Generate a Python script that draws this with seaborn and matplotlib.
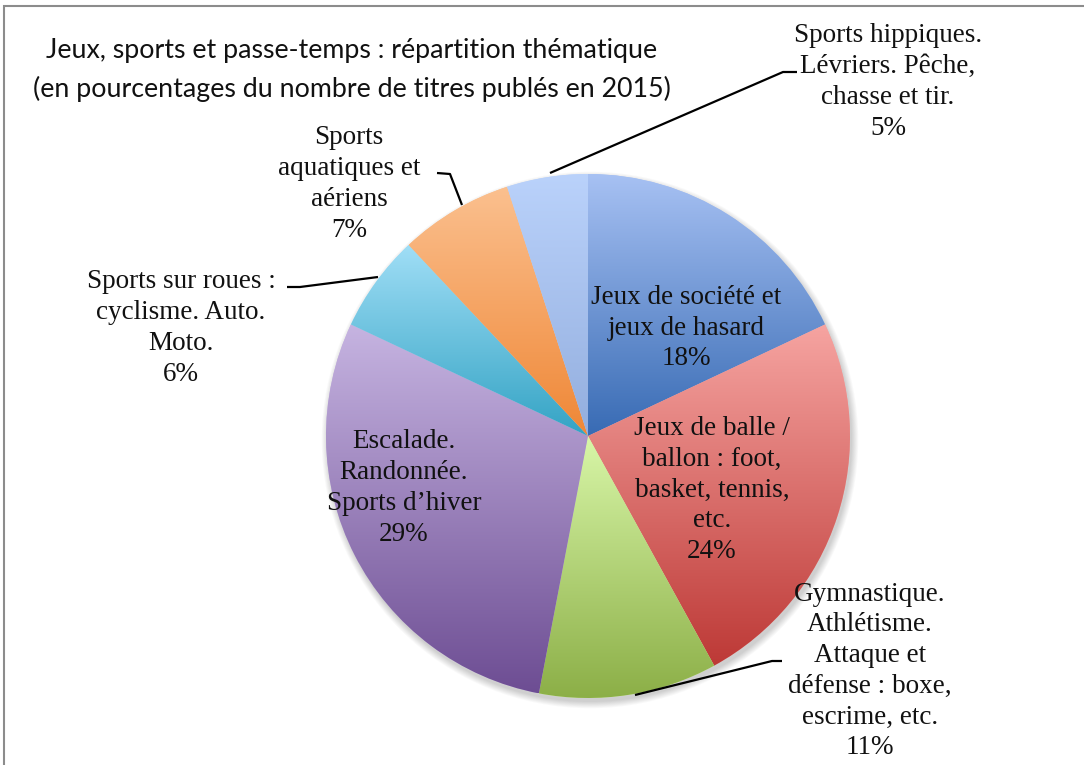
import numpy as np
import matplotlib
matplotlib.use("Agg")
import matplotlib.pyplot as plt
from matplotlib.colors import to_rgb
from matplotlib.patches import Rectangle, Circle
import seaborn as sns

# data
labels = [
    "Jeux de société et\njeux de hasard",
    "Jeux de balle /\nballon : foot,\nbasket, tennis,\netc.",
    "Gymnastique.\nAthlétisme.\nAttaque et\ndéfense : boxe,\nescrime, etc.",
    "Escalade.\nRandonnée.\nSports d’hiver",
    "Sports sur roues :\ncyclisme. Auto.\nMoto.",
    "Sports\naquatiques et\naériens",
    "Sports hippiques.\nLévriers. Pêche,\nchasse et tir.",
]
values = [18, 24, 11, 29, 6, 7, 5]
top_colors = ["#A7C1F3", "#F6A4A1", "#D8F6A8", "#C6B4E1", "#A0DEF6", "#FBC08F", "#BAD2FB"]
bottom_colors = ["#386BB4", "#BD3936", "#8CAF47", "#6D4D93", "#33A3C4", "#EF8736", "#93AEDE"]
title = "Jeux, sports et passe-temps : répartition thématique\n(en pourcentages du nombre de titres publés en 2015)"

sns.set_style("white")

W, H = 1084, 765
fig = plt.figure(figsize=(W / 100, H / 100), dpi=100)
ax = fig.add_axes([0, 0, 1, 1])

def Y(y):  # from top-based pixel to axes coords
    return H - y

cx, cy, r = 588, Y(436), 262

# soft shadow under the pie
for k in range(8):
    ax.add_patch(Circle((cx + 2, cy - 4), r + k * 0.9, color="#000000",
                        alpha=0.025, lw=0, zorder=1))

wedges, _ = ax.pie(values, startangle=90, counterclock=False, center=(cx, cy),
                   radius=r, colors=top_colors, frame=True,
                   wedgeprops=dict(linewidth=0, zorder=2))

# vertical gradient inside each slice
for w, ct, cb in zip(wedges, top_colors, bottom_colors):
    ext = w.get_path().get_extents()
    t = np.linspace(0, 1, 256)[:, None]
    a, b = np.array(to_rgb(ct)), np.array(to_rgb(cb))
    img = (a[None, None, :] * (1 - t[:, :, None]) + b[None, None, :] * t[:, :, None])
    im = ax.imshow(img, extent=(ext.x0, ext.x1, ext.y0, ext.y1), origin="upper",
                   aspect="auto", interpolation="bilinear", zorder=3)
    im.set_clip_path(w)
ax.set_xlim(0, W)
ax.set_ylim(0, H)
ax.axis("off")

serif = ["Liberation Serif", "DejaVu Serif"]
fs = 19.5
label_pos = [(686, 328), (712, 490), (870, 671), (404, 488), (181, 328), (349, 184), (888, 82)]
for lab, v, (x, y) in zip(labels, values, label_pos):
    ax.text(x, Y(y), f"{lab}\n{v}%", ha="center", va="center", fontsize=fs,
            family=serif, linespacing=1.3, zorder=5, color="#111111")

# leader lines
leaders = [
    [(550, 173), (783, 72), (797, 72)],
    [(462, 205), (450, 174), (437, 173)],
    [(378, 277), (300, 287), (287, 287)],
    [(635, 695), (772, 661), (782, 661)],
]
for pts in leaders:
    xs = [p[0] for p in pts]
    ys = [Y(p[1]) for p in pts]
    ax.plot(xs, ys, color="black", lw=1.6, zorder=4, solid_capstyle="butt")

ax.text(352, Y(70), title, ha="center", va="center", fontsize=19.3,
        family=["Lato", "DejaVu Sans"], linespacing=1.65, color="#111111")

# outer chart frame
ax.add_patch(Rectangle((4, -20), W + 40, H - 6 + 20, fill=False,
                       edgecolor="#8c8c8c", lw=1.5, zorder=6, clip_on=False))

fig.savefig("out.png", dpi=100)
